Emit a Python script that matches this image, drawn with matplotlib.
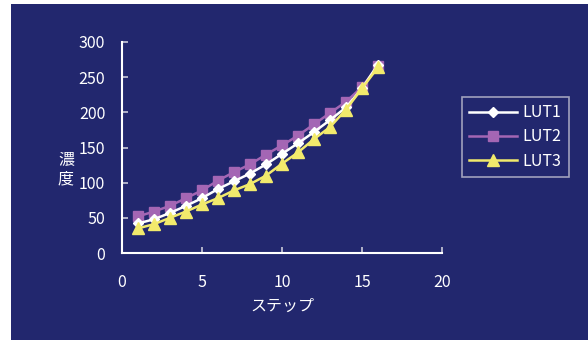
import matplotlib
matplotlib.use("Agg")
import matplotlib.pyplot as plt
from matplotlib.patches import Rectangle

plt.rcParams['font.family'] = ['Noto Sans CJK JP', 'DejaVu Sans']

steps = [1, 2, 3, 4, 5, 6, 7, 8, 9, 10, 11, 12, 13, 14, 15, 16]
lut1 = [42, 48, 57, 67, 78, 91, 102, 113, 126, 141, 156, 172, 189, 207, 234, 268]
lut2 = [52, 59, 67, 78, 89, 103, 115, 126, 140, 153, 167, 183, 199, 215, 236, 266]
lut3 = [35, 41, 50, 59, 69, 78, 89, 98, 110, 127, 143, 162, 179, 204, 234, 264]
xticks = [0, 5, 10, 15, 20]
yticks = [0, 50, 100, 150, 200, 250, 300]

BG = '#22276E'
W, H = 588, 340
fig = plt.figure(figsize=(W / 100, H / 100), dpi=100, facecolor='white')
fig.patches.append(Rectangle((11 / W, 0), 1 - 11 / W, (H - 4) / H,
                             transform=fig.transFigure, facecolor=BG,
                             edgecolor='none', zorder=-10))

ax = fig.add_axes([122 / W, (H - 253) / H, (442 - 122) / W, (253 - 42) / H])
ax.set_facecolor(BG)
ax.patch.set_alpha(0)

ax.plot(steps, lut1, color='white', lw=1.8, marker='D', ms=5.5,
        mfc='white', mec='white', label='LUT1', zorder=4)
ax.plot(steps, lut2, color='#A466B4', lw=1.8, marker='s', ms=6.8,
        mfc='#A466B4', mec='#A466B4', label='LUT2', zorder=3)
ax.plot(steps, lut3, color='#F2EA6C', lw=1.8, marker='^', ms=8.5,
        mfc='#F2EA6C', mec='#F2EA6C', label='LUT3', zorder=5)

ax.set_xlim(0, 20)
ax.set_ylim(0, 300)
ax.set_xticks(xticks)
ax.set_yticks(yticks)
for s in ['top', 'right']:
    ax.spines[s].set_visible(False)
for s in ['left', 'bottom']:
    ax.spines[s].set_color('white')
    ax.spines[s].set_linewidth(1.5)
ax.tick_params(direction='in', length=4, width=1.2, color='#C8C8D8',
               labelcolor='white', labelsize=11.5, pad=12)
ax.tick_params(axis='x', pad=15)

ax.set_xlabel('ステップ', color='white', fontsize=11.5, labelpad=5)
fig.text(66 / W, 1 - 169 / H, '濃\n度', color='white', fontsize=11.5,
         ha='center', va='center', linespacing=1.2)

leg = ax.legend(loc='upper left', bbox_to_anchor=(462 / W, 1 - 97 / H),
                bbox_transform=fig.transFigure, frameon=True, fancybox=False,
                fontsize=11.5, labelcolor='white', handlelength=3.0,
                borderpad=0.45, labelspacing=0.45, handletextpad=0.35,
                borderaxespad=0)
leg.get_frame().set_facecolor(BG)
leg.get_frame().set_edgecolor('#C0C0D0')
leg.get_frame().set_linewidth(1.2)

fig.savefig('out.png', dpi=100, facecolor='white')
